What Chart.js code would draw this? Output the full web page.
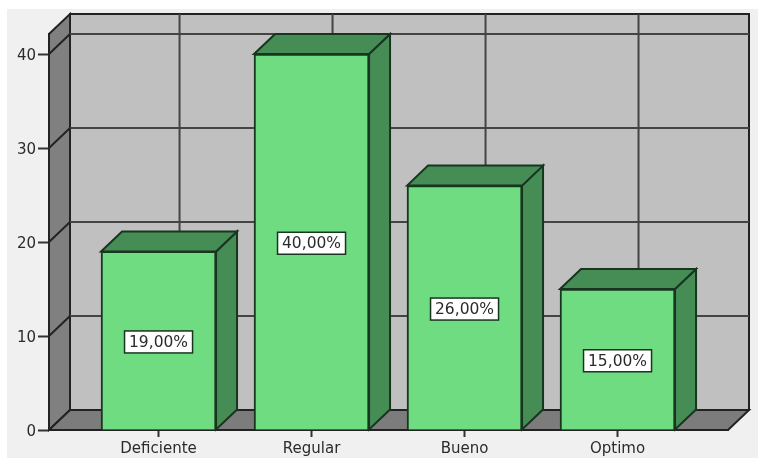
<!DOCTYPE html>
<html>
<head>
<meta charset="utf-8">
<style>
  html, body { margin: 0; padding: 0; background: #fff; }
  #chart { display: block; }
</style>
<script src="https://cdn.jsdelivr.net/npm/chart.js@4"></script>
</head>
<body>
<div style="width:758px;height:459px"><canvas id="chart" width="758" height="459"></canvas></div>
<script>
const categories = ['Deficiente', 'Regular', 'Bueno', 'Optimo'];
const percentValues = [19, 40, 26, 15];
const percentLabels = ['19,00%', '40,00%', '26,00%', '15,00%'];
const yTicks = [0, 10, 20, 30, 40];

// depth of the fake 3D box, in pixels
const depthX = 21;
const depthY = -20;
const lineDark = '#17351f';
const gridLine = '#444444';
const textColor = '#2b2b2b';

function poly(ctx, pts, fill, stroke, lw) {
  ctx.beginPath();
  pts.forEach((p, i) => i ? ctx.lineTo(p[0], p[1]) : ctx.moveTo(p[0], p[1]));
  ctx.closePath();
  ctx.fillStyle = fill;
  ctx.fill();
  ctx.strokeStyle = stroke;
  ctx.lineWidth = lw;
  ctx.stroke();
}

function seg(ctx, x1, y1, x2, y2, color, lw) {
  ctx.beginPath();
  ctx.moveTo(x1, y1);
  ctx.lineTo(x2, y2);
  ctx.strokeStyle = color;
  ctx.lineWidth = lw;
  ctx.stroke();
}

const boxPlugin = {
  id: 'box3d',
  beforeDraw(chart) {
    const ctx = chart.ctx;
    const a = chart.chartArea;
    const y = chart.scales.y;
    const x = chart.scales.x;
    ctx.save();
    ctx.fillStyle = '#f0f0f0';
    ctx.fillRect(7, 9, chart.width - 7, chart.height - 10);

    // back wall
    poly(ctx, [[a.left + depthX, a.top + depthY], [a.right + depthX, a.top + depthY],
      [a.right + depthX, a.bottom + depthY], [a.left + depthX, a.bottom + depthY]], '#c0c0c0', '#222', 2);
    // left wall
    poly(ctx, [[a.left, a.top], [a.left + depthX, a.top + depthY],
      [a.left + depthX, a.bottom + depthY], [a.left, a.bottom]], '#808080', '#222', 2);
    // floor
    poly(ctx, [[a.left, a.bottom], [a.left + depthX, a.bottom + depthY],
      [a.right + depthX, a.bottom + depthY], [a.right, a.bottom]], '#7c7c7c', '#222', 2);

    // grid on the walls
    yTicks.slice(1).forEach(v => {
      const py = y.getPixelForValue(v);
      seg(ctx, a.left + depthX, py + depthY, a.right + depthX, py + depthY, gridLine, 2);
      seg(ctx, a.left, py, a.left + depthX, py + depthY, '#222', 2);
    });
    categories.forEach((c, i) => {
      const px = x.getPixelForValue(i) + depthX;
      seg(ctx, px, a.top + depthY, px, a.bottom + depthY, gridLine, 2);
    });
    ctx.restore();
  },
  beforeDatasetsDraw(chart) {
    const ctx = chart.ctx;
    ctx.save();
    chart.getDatasetMeta(0).data.forEach(bar => {
      const l = bar.x - bar.width / 2;
      const r = bar.x + bar.width / 2;
      // right side
      poly(ctx, [[r, bar.y], [r + depthX, bar.y + depthY], [r + depthX, bar.base + depthY], [r, bar.base]],
        '#458c55', lineDark, 2);
      // top
      poly(ctx, [[l, bar.y], [l + depthX, bar.y + depthY], [r + depthX, bar.y + depthY], [r, bar.y]],
        '#458c55', lineDark, 2);
    });
    ctx.restore();
  },
  afterDatasetsDraw(chart) {
    const ctx = chart.ctx;
    ctx.save();
    ctx.font = '15.5px "DejaVu Sans"';
    ctx.textAlign = 'center';
    ctx.textBaseline = 'middle';
    chart.getDatasetMeta(0).data.forEach((bar, i) => {
      const cy = (bar.y + bar.base) / 2 + 1.5;
      ctx.fillStyle = '#fff';
      ctx.fillRect(bar.x - 34, cy - 11, 68, 22);
      ctx.strokeStyle = lineDark;
      ctx.lineWidth = 1.5;
      ctx.strokeRect(bar.x - 34, cy - 11, 68, 22);
      ctx.fillStyle = textColor;
      ctx.fillText(percentLabels[i], bar.x, cy + 1);
    });
    ctx.restore();
  }
};

new Chart(document.getElementById('chart').getContext('2d'), {
  type: 'bar',
  data: {
    datasets: [{
      data: percentValues.map((v, i) => ({ x: i, y: v })),
      backgroundColor: '#70dc82',
      borderColor: lineDark,
      borderWidth: 2,
      barThickness: 115
    }]
  },
  options: {
    responsive: false,
    animation: false,
    layout: { padding: { top: 34, right: 30, left: 0, bottom: 0 } },
    plugins: { legend: { display: false }, tooltip: { enabled: false } },
    scales: {
      x: {
        type: 'linear',
        offset: false,
        min: -0.716,
        max: 3.722,
        afterBuildTicks: s => { s.ticks = categories.map((c, i) => ({ value: i })); },
        afterFit: s => { s.height = 29; },
        grid: { offset: false, drawOnChartArea: false, tickLength: 7, tickWidth: 2, color: '#333' },
        border: { color: '#222', width: 2 },
        ticks: {
          autoSkip: false, maxRotation: 0, padding: 3, color: textColor,
          font: { family: '"DejaVu Sans"', size: 15 },
          callback: v => categories[v]
        }
      },
      y: {
        min: 0,
        max: 42.13,
        afterBuildTicks: s => { s.ticks = yTicks.map(v => ({ value: v })); },
        afterFit: s => { s.width = 49; },
        grid: { drawOnChartArea: false, tickLength: 11, tickWidth: 2, color: '#333' },
        border: { color: '#222', width: 2 },
        ticks: {
          padding: 2, labelOffset: 2, color: textColor,
          font: { family: '"DejaVu Sans"', size: 15 }
        }
      }
    }
  },
  plugins: [boxPlugin]
});
</script>
</body>
</html>
